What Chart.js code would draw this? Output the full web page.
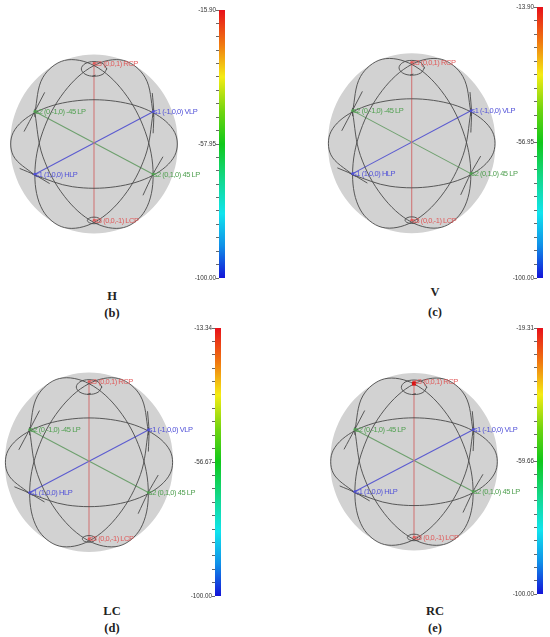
<!DOCTYPE html>
<html>
<head>
<meta charset="utf-8">
<script src="https://cdn.jsdelivr.net/npm/chart.js@4"></script>
<style>
html,body{margin:0;padding:0;background:#fff;width:550px;height:637px;overflow:hidden}
canvas{position:absolute;filter:blur(0.35px)}
.cap{position:absolute;font-family:"Liberation Serif",serif;font-weight:bold;font-size:12.5px;color:#222;transform:translate(-50%,-50%);white-space:nowrap}
</style>
</head>
<body>
<script>
// ---- values (sphere coordinates: radius 1 = sphere edge) ----
const sphereX     = [-1,-.999,-.966,-.866,-.707,-.5,-.259,0,.259,.5,.707,.866,.966,.999,1];
const sphereUpper = [0,.045,.259,.5,.707,.866,.966,1,.966,.866,.707,.5,.259,.045,0];
const sphereLower = [0,-.045,-.259,-.5,-.707,-.866,-.966,-1,-.966,-.866,-.707,-.5,-.259,-.045,0];

const equatorX = [-.740,-.704,-.258,.258,.704,.962,.962,.704,.258,-.258,-.704,-.962,-.962,-.704,-.667];
const equatorY = [-.330,-.349,-.477,-.477,-.349,-.128,.128,.349,.477,.477,.349,.128,-.128,-.349,-.367];

const meridianAX = [.703,.704,.610,.352,0,-.352,-.610,-.704,-.610,-.352,0,.352,.610,.704,.703];
const meridianAY = [.302,.349,.741,.934,.877,.585,.137,-.349,-.741,-.934,-.877,-.585,-.137,.349,.394];

const meridianBX = [-.703,-.704,-.610,-.352,0,.352,.610,.704,.610,.352,0,-.352,-.610,-.704,-.703];
const meridianBY = [.302,.349,.741,.934,.877,.585,.137,-.349,-.741,-.934,-.877,-.585,-.137,.349,.394];

const topRingX = [.150,.151,.107,0,-.107,-.151,-.107,0,.107,.151,.150];
const topRingY = [.832,.839,.897,.921,.897,.839,.781,.757,.781,.839,.846];
const lowRingX = [.079,.079,.056,0,-.056,-.079,-.056,0,.056,.079,.079];
const lowRingY = [-.857,-.854,-.828,-.817,-.828,-.854,-.880,-.891,-.880,-.854,-.851];

const strokeNWX = [-.587,-.706,-.833]; const strokeNWY = [.577,.363,.139];
const strokeSEX = [.821,.702,.583];    const strokeSEY = [-.142,-.337,-.573];
const strokeNEX = [.694,.712,.704];    const strokeNEY = [.569,.350,.120];
const strokeSWX = [-.885,-.706,-.528]; const strokeSWY = [-.273,-.345,-.442];
const tickTopX  = [-.02,.02];          const tickTopY  = [.757,.769];

const axisS1X = [-.704,.704]; const axisS1Y = [-.337,.361];
const axisS2X = [-.704,.704]; const axisS2Y = [.363,-.337];
const axisS3X = [0,0];        const axisS3Y = [.90,-.854];

const poleLabels = ["s1 (1,0,0) HLP","s1 (-1,0,0) VLP","s2 (0,-1,0) -45 LP","s2 (0,1,0) 45 LP","s3 (0,0,1) RCP","s3 (0,0,-1) LCP"];
const poleX = [-.704,.704,-.704,.704,0,0];
const poleY = [-.337,.361,.363,-.337,.90,-.854];
const poleKinds = ["b","b","g","g","r","r"];

const panelNames = ["b","c","d","e"];
const panelTitles = ["H","V","LC","RC"];
const panelTags = ["(b)","(c)","(d)","(e)"];
const scaleTop = [-15.90,-13.90,-13.34,-19.31];
const scaleMidLabel = ["-57.95","-56.95","-56.67","-59.66"];
const scaleTopLabel = ["-15.90","-13.90","-13.34","-19.31"];
const scaleLow = -100;
const scaleLowLabel = "-100.00";
const hotX = [0]; const hotY = [.88];
const hotValues = [null,null,null,-19.31];

const rampColors = ["#e8101a","#f07a10","#f5ec14","#6fd40f","#10c81a","#12d88a","#10e4ee","#1090e8","#1414d8"];
const rampStops  = [0,.13,.25,.38,.5,.63,.76,.88,1];

// ---- page placement ----
const geo = [
 {cx:94,  cy:144, rx:84,  ry:89.5, bl:219.3, bt:10,  bb:277.5, tx:112, ty:296, tagy:313},
 {cx:411.7,cy:143.3,rx:84, ry:90,   bl:537,   bt:6.5, bb:277.5, tx:435, ty:292, tagy:312},
 {cx:89,  cy:462.3,rx:84.3,ry:89.7, bl:215,   bt:328, bb:596,   tx:112, ty:611, tagy:628},
 {cx:414, cy:461.7,rx:84,  ry:88.7, bl:537,   bt:328, bb:594,   tx:435, ty:611, tagy:628}
];
const colors = {b:"#5050d8",g:"#4f9f4f",r:"#e05a5a"};
const zip = (xs,ys)=>xs.map((x,i)=>({x,y:ys[i]}));

const poleText = {
  id:"poleText",
  afterDatasetsDraw(chart){
    const {ctx,scales:{x,y}} = chart;
    ctx.save();
    ctx.font = '7.5px "Liberation Sans", Arial, sans-serif';
    ctx.letterSpacing = "-0.45px";
    ctx.textBaseline = "middle";
    ctx.textAlign = "left";
    poleLabels.forEach((t,i)=>{
      ctx.fillStyle = colors[poleKinds[i]];
      ctx.fillText(t, x.getPixelForValue(poleX[i])+0.5, y.getPixelForValue(poleY[i])+0.5);
    });
    ctx.restore();
  }
};

function curve(xs,ys,tension){
  return {type:"line",data:zip(xs,ys),borderColor:"#4a4a4a",borderWidth:.9,tension:tension,pointRadius:0,fill:false,order:2};
}
function straight(xs,ys,col){
  return {type:"line",data:zip(xs,ys),borderColor:col,borderWidth:1.1,tension:0,pointRadius:0,fill:false,order:3};
}

panelNames.forEach((name,k)=>{
  const g = geo[k];
  const L = Math.round(g.cx-92), W = 222, T = Math.round(g.cy-96), H = 192;
  const c = document.createElement("canvas");
  c.width=W;c.height=H;
  c.style.width=W+"px"; c.style.height=H+"px";
  c.id="sphere-"+name;
  const box=document.createElement("div");
  box.style.cssText=`position:absolute;left:${L}px;top:${T}px;width:${W}px;height:${H}px`;
  c.style.left="0";c.style.top="0";
  box.appendChild(c);document.body.appendChild(box);

  const datasets = [
    {type:"line",data:zip(sphereX,sphereUpper),borderWidth:0,borderColor:"transparent",backgroundColor:"#d2d2d2",tension:.337,pointRadius:0,fill:"+1",order:9},
    {type:"line",data:zip(sphereX,sphereLower),borderWidth:0,borderColor:"transparent",tension:.337,pointRadius:0,fill:false,order:9},
    straight(axisS3X,axisS3Y,"#d07878"),
    straight(axisS1X,axisS1Y,"#5c5cd0"),
    straight(axisS2X,axisS2Y,"#6ea06e"),
    curve(equatorX,equatorY,.35),
    curve(meridianAX,meridianAY,.35),
    curve(meridianBX,meridianBY,.35),
    curve(topRingX,topRingY,.37),
    curve(lowRingX,lowRingY,.37),
    curve(strokeNWX,strokeNWY,.3),
    curve(strokeSEX,strokeSEY,.3),
    curve(strokeNEX,strokeNEY,.3),
    curve(strokeSWX,strokeSWY,.3),
    curve(tickTopX,tickTopY,0),
    {type:"scatter",data:zip(poleX,poleY),pointRadius:1.4,pointBackgroundColor:poleKinds.map(m=>colors[m]),pointBorderWidth:0,showLine:false,order:1}
  ];
  if(hotValues[k]!==null){
    datasets.push({type:"scatter",data:zip(hotX,hotY),pointStyle:"rect",pointRadius:2.8,pointBackgroundColor:"#d81414",pointBorderWidth:0,showLine:false,order:0});
  }
  new Chart(c,{
    type:"scatter",
    data:{datasets},
    plugins:[poleText],
    options:{
      responsive:false,animation:false,devicePixelRatio:1,
      layout:{padding:0,autoPadding:false},
      clip:false,
      plugins:{legend:{display:false},tooltip:{enabled:false},filler:{propagate:false}},
      scales:{
        x:{type:"linear",display:false,min:(L-g.cx)/g.rx,max:(L+W-g.cx)/g.rx},
        y:{type:"linear",display:false,min:(g.cy-(T+H))/g.ry,max:(g.cy-T)/g.ry}
      }
    }
  });

  // colour scale
  const bw=6, ax=42, pad=6;
  const bc=document.createElement("canvas");
  const bh=Math.round(g.bb-g.bt+2*pad);
  bc.width=ax+bw;bc.height=bh;
  const bbox=document.createElement("div");
  bbox.style.cssText=`position:absolute;left:${g.bl-ax}px;top:${g.bt-pad}px;width:${ax+bw}px;height:${bh}px`;
  bc.style.left="0";bc.style.top="0";bc.style.width=(ax+bw)+"px";bc.style.height=bh+"px";
  bc.id="scale-"+name;
  bbox.appendChild(bc);document.body.appendChild(bbox);
  const step=(scaleTop[k]-scaleLow)/20;
  new Chart(bc,{
    type:"bar",
    data:{labels:[panelTitles[k]],datasets:[{
      data:[[scaleLow,scaleTop[k]]],
      barPercentage:1,categoryPercentage:1,borderWidth:0,borderSkipped:false,
      backgroundColor(ctx){
        const a=ctx.chart.chartArea; if(!a) return "#888";
        const gr=ctx.chart.ctx.createLinearGradient(0,a.top,0,a.bottom);
        rampColors.forEach((col,i)=>gr.addColorStop(rampStops[i],col));
        return gr;
      }
    }]},
    options:{
      responsive:false,animation:false,devicePixelRatio:1,
      layout:{padding:{top:pad,bottom:pad,left:0,right:0},autoPadding:false},
      plugins:{legend:{display:false},tooltip:{enabled:false}},
      scales:{
        x:{display:false},
        y:{
          min:scaleLow,max:scaleTop[k],
          afterFit(s){s.width=ax;},
          afterBuildTicks(s){
            s.ticks=[];
            for(let i=0;i<=20;i++) s.ticks.push({value:scaleLow+step*i});
          },
          border:{display:false},
          grid:{drawOnChartArea:false,drawTicks:true,tickLength:3,color:"#444",lineWidth:.8},
          ticks:{
            autoSkip:false,maxRotation:0,padding:0,color:"#333",
            font:{family:'"Liberation Sans", Arial, sans-serif',size:6.3},
            callback(v,i){return i===0?scaleLowLabel:i===10?scaleMidLabel[k]:i===20?scaleTopLabel[k]:"";}
          }
        }
      }
    }
  });

  [[panelTitles[k],g.ty],[panelTags[k],g.tagy]].forEach(([t,y])=>{
    const d=document.createElement("div");d.className="cap";d.textContent=t;
    d.style.left=g.tx+"px";d.style.top=y+"px";document.body.appendChild(d);
  });
});
</script>
</body>
</html>
